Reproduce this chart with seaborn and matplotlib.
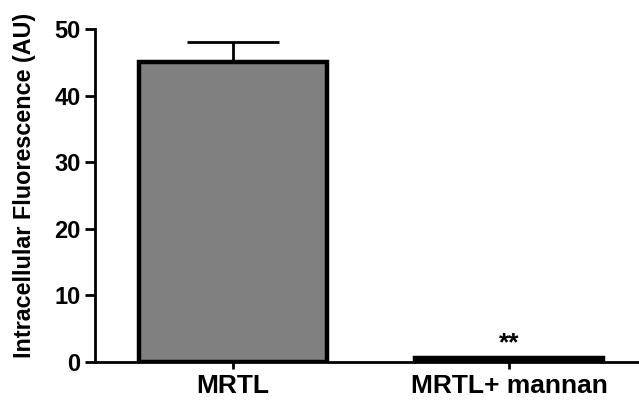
import numpy as np
import pandas as pd
import matplotlib
matplotlib.use("Agg")
import matplotlib.pyplot as plt
import seaborn as sns

# Data
groups = ["MRTL", "MRTL+ mannan"]
means = [45.0, 0.6]
sem_up = [3.0, 0.0]
stars = ["", "**"]

df = pd.DataFrame({"group": groups, "value": means})

sns.set_style("ticks")
plt.rcParams["font.family"] = ["Liberation Sans", "DejaVu Sans"]
plt.rcParams["font.weight"] = "bold"
for key in ["text.color", "axes.labelcolor", "axes.edgecolor", "xtick.color", "ytick.color"]:
    plt.rcParams[key] = "black"

fig = plt.figure(figsize=(6.39, 4.01), dpi=100)
ax = fig.add_axes([0.1487, 0.0973, 0.8513, 0.8304])

sns.barplot(data=df, x="group", y="value", color="#808080", width=0.68,
            edgecolor="black", linewidth=3.2, errorbar=None, saturation=1, ax=ax)

# one-sided error bar (mean + SEM)
x = np.arange(len(groups))
ax.errorbar(x, means, yerr=[np.zeros(len(means)), sem_up], fmt="none",
            ecolor="black", elinewidth=2, capsize=33, capthick=2, zorder=1)

for xi, m, s in zip(x, means, stars):
    if s:
        ax.text(xi, 2.8, s, ha="center", va="center", fontsize=19, fontweight="bold")

ax.set_ylim(0, 50)
ax.set_xlim(-0.5, 1.47)
ax.set_yticks([0, 10, 20, 30, 40, 50])
ax.set_xlabel("")
ax.set_ylabel("Intracellular Fluorescence (AU)", fontsize=16.8, fontweight="bold")
ax.yaxis.set_label_coords(-0.108, 0.53)

sns.despine(ax=ax)
ax.spines["left"].set_linewidth(2)
ax.spines["bottom"].set_linewidth(2)
ax.tick_params(axis="y", length=7.5, width=2, labelsize=17, pad=3)
ax.tick_params(axis="x", length=5, width=2, labelsize=19, pad=4)
for lab in ax.get_xticklabels() + ax.get_yticklabels():
    lab.set_fontweight("bold")

fig.savefig("out.png", dpi=100)
